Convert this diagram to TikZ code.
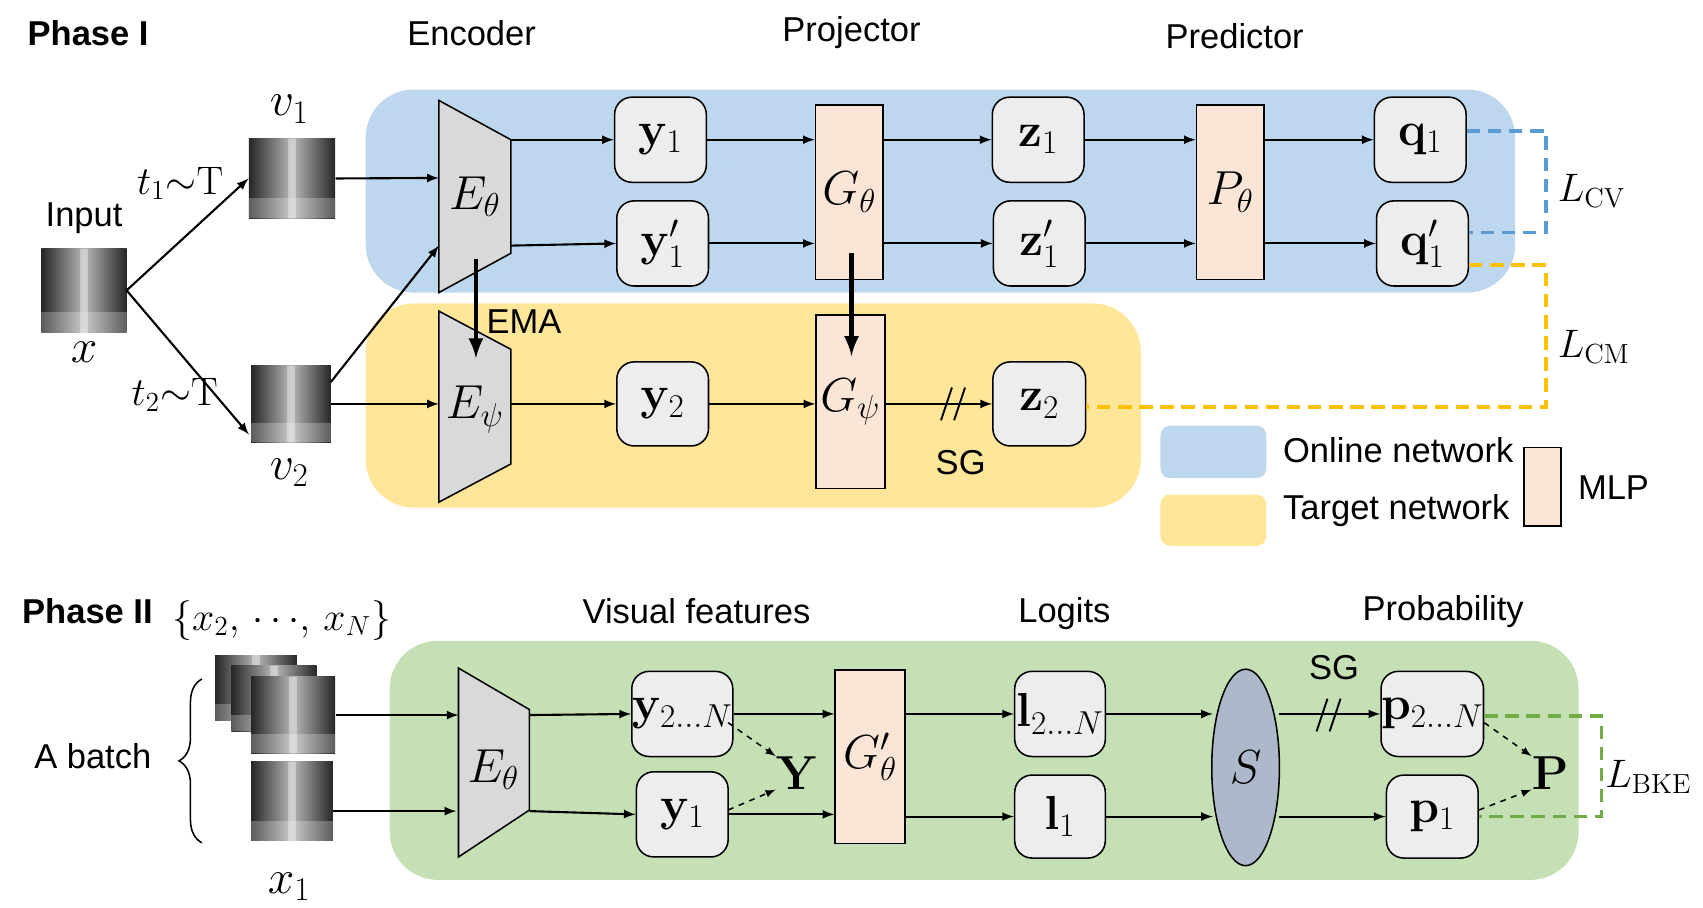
\documentclass[tikz,border=0pt]{standalone}
\usepackage[no-math]{fontspec}
\setmainfont{Liberation Sans}
\usetikzlibrary{decorations.pathreplacing,shapes.geometric}
\definecolor{onl}{HTML}{BDD7EE}
\definecolor{tgt}{HTML}{FFE699}
\definecolor{grn}{HTML}{C5E0B4}
\definecolor{mlp}{HTML}{FBE5D6}
\definecolor{boxg}{HTML}{EDEDED}
\definecolor{encg}{HTML}{D9D9D9}
\definecolor{sfill}{HTML}{ADB9CA}
\definecolor{dblue}{HTML}{5B9BD5}
\definecolor{dyel}{HTML}{FFC000}
\definecolor{dgrn}{HTML}{70AD47}
\begin{document}
\begin{tikzpicture}[x=0.02cm,y=-0.02cm,
  txt/.style={font=\fontsize{18}{21}\selectfont, inner sep=0pt},
  mth/.style={font=\fontsize{23}{27}\selectfont, inner sep=0pt},
  sml/.style={font=\fontsize{20}{24}\selectfont, inner sep=0pt},
  feat/.style={draw, rounded corners=9pt, fill=boxg, line width=0.8pt, inner sep=0pt, font=\fontsize{25}{29}\selectfont},
  mlpb/.style={draw, fill=mlp, line width=0.8pt, inner sep=0pt, font=\fontsize{23}{27}\selectfont},
  arr/.style={-latex, line width=1.1pt},
  darr/.style={-latex, dashed, line width=0.8pt},
  thick arr/.style={-latex, line width=2.5pt},
  enc/.style={draw, fill=encg, line width=0.8pt},
  loss/.style={dashed, dash pattern=on 7pt off 4pt, line width=2pt},
  bg/.style={rounded corners=25pt}
]
\useasboundingbox (0,0) rectangle (1560,831);
\newcommand\xray[5]{% name, x1,y1,x2,y2
  \shade[left color=black!85, right color=black!85, middle color=gray!55] (#2,#3) rectangle (#4,#5);
  \fill[white, opacity=0.35] ({(#2+#4)/2-4},#3) rectangle ({(#2+#4)/2+4},#5);
  \fill[white, opacity=0.25] (#2,{#5-0.25*(#5-#3)}) rectangle (#4,#5);
  \node[inner sep=0pt, minimum width={(#4-#2)*0.02cm}, minimum height={(#5-#3)*0.02cm}] (#1) at ({(#2+#4)/2},{(#3+#5)/2}) {};
}
% backgrounds
\fill[onl,bg] (335,82) rectangle (1388,268);
\fill[tgt,bg] (335,278) rectangle (1045,465);
\fill[grn,bg] (357,587) rectangle (1446,806);

% titles
\node[txt, font=\fontsize{18}{21}\selectfont\bfseries, anchor=west] (ph1) at (25,30) {Phase I};
\node[txt] (tenc) at (432,30) {Encoder};
\node[txt] (tproj) at (780,30) {Projector};
\node[txt] (tpred) at (1131,33) {Predictor};

% input
\node[txt] (tin) at (77,200) {Input};
\xray{inimg}{38}{228}{116}{305}
\node[mth] (tx) at (77,323) {$x$};
\xray{v1img}{228}{127}{307}{200}
\node[mth] (tv1) at (265,100) {$v_1$};
\xray{v2img}{230}{335}{303}{405}
\node[mth] (tv2) at (265,433) {$v_2$};
\node[sml] (tt1) at (165,168) {$t_1{\sim}\mathrm{T}$};
\node[sml] (tt2) at (160,362) {$t_2{\sim}\mathrm{T}$};
\coordinate (inR) at (116,266);
\draw[arr] (inR) -- (v1img.west);
\draw[arr] (inR) -- (228,398);

% encoders
\draw[enc] (402,92) -- (468,128) -- (468,232) -- (402,268) -- cycle;
\node[mth] (Eth) at (435,180) {$E_\theta$};
\draw[enc] (402,285) -- (468,320) -- (468,425) -- (402,460) -- cycle;
\node[mth] (Eps) at (435,375) {$E_\psi$};
\coordinate (eth1) at (402,163); \coordinate (eth2) at (402,225);
\coordinate (eps1) at (402,370);
\draw[arr] (v1img.east) -- (eth1);
\draw[arr] (v2img.east) -- (eps1);
\draw[arr] (303,350) -- (eth2);

% online row
\node[feat, minimum width=1.68cm, minimum height=1.56cm] (y1) at (605,128) {$\mathbf{y}_1$};
\node[feat, minimum width=1.68cm, minimum height=1.56cm] (y1p) at (607,223) {$\mathbf{y}_1'$};
\node[mlpb, minimum width=1.24cm, minimum height=3.2cm] (Gth) at (778,176) {$G_\theta$};
\node[feat, minimum width=1.68cm, minimum height=1.56cm] (z1) at (951,128) {$\mathbf{z}_1$};
\node[feat, minimum width=1.68cm, minimum height=1.56cm] (z1p) at (952,223) {$\mathbf{z}_1'$};
\node[mlpb, minimum width=1.24cm, minimum height=3.2cm] (Pth) at (1127,176) {$P_\theta$};
\node[feat, minimum width=1.68cm, minimum height=1.56cm] (q1) at (1301,128) {$\mathbf{q}_1$};
\node[feat, minimum width=1.68cm, minimum height=1.56cm] (q1p) at (1303,223) {$\mathbf{q}_1'$};
\draw[arr] (468,128) -- (y1.west);
\draw[arr] (468,225) -- (y1p.west);
\draw[arr] (y1.east) -- (Gth.west|-y1);
\draw[arr] (y1p.east) -- (Gth.west|-y1p);
\draw[arr] (Gth.east|-z1) -- (z1.west);
\draw[arr] (Gth.east|-z1p) -- (z1p.west);
\draw[arr] (z1.east) -- (Pth.west|-z1);
\draw[arr] (z1p.east) -- (Pth.west|-z1p);
\draw[arr] (Pth.east|-q1) -- (q1.west);
\draw[arr] (Pth.east|-q1p) -- (q1p.west);

% target row
\node[feat, minimum width=1.68cm, minimum height=1.54cm] (y2) at (607,370) {$\mathbf{y}_2$};
\node[mlpb, minimum width=1.26cm, minimum height=3.18cm] (Gps) at (779,368) {$G_\psi$};
\node[feat, minimum width=1.7cm, minimum height=1.54cm] (z2) at (952,370) {$\mathbf{z}_2$};
\draw[arr] (468,370) -- (y2.west);
\draw[arr] (y2.east) -- (Gps.west|-y2);
\draw[arr] (Gps.east|-z2) -- (z2.west);
\draw[line width=1pt] (862,385) -- (872,355) (874,385) -- (884,355);
\node[txt] (sg1) at (880,424) {SG};

% EMA arrows
\draw[thick arr] (436,237) -- (436,328);
\node[txt] (ema) at (480,295) {EMA};
\draw[thick arr] (780,232) -- (780,326);

% losses
\draw[dblue, loss] (q1.east|-0,120) -- (1416,120) -- (1416,213) -- (q1p.east|-0,213);
\node[sml, font=\fontsize{22}{26}\selectfont] (lcv) at (1458,175) {$L_{\mathrm{CV}}$};
\draw[dyel, loss] (q1p.east|-0,243) -- (1416,243) -- (1416,373) -- (z2.east|-0,373);
\node[sml, font=\fontsize{22}{26}\selectfont] (lcm) at (1460,318) {$L_{\mathrm{CM}}$};

% legend
\fill[onl, rounded corners=5pt] (1063,390) rectangle (1160,438);
\node[txt, anchor=west] (lon) at (1175,412) {Online network};
\fill[tgt, rounded corners=5pt] (1063,453) rectangle (1160,500);
\node[txt, anchor=west] (ltg) at (1175,468) {Target network};
\draw[fill=mlp, line width=0.8pt] (1396,410) rectangle (1430,482);
\node[txt] (lmlp) at (1478,447) {MLP};

% Phase II
\node[txt, font=\fontsize{18}{21}\selectfont\bfseries, anchor=west] (ph2) at (20,560) {Phase II};
\node[sml] (tset) at (258,568) {$\{x_2,\,\cdots\!,\,x_N\}$};
\node[txt] (tvf) at (638,560) {Visual features};
\node[txt] (tlog) at (975,562) {Logits};
\node[txt] (tprob) at (1322,560) {Probability};

\xray{b1}{197}{600}{272}{660}
\xray{b2}{212}{610}{290}{670}
\xray{b3}{230}{620}{307}{690}
\xray{x1img}{230}{698}{305}{770}
\node[mth] (tx1) at (265,812) {$x_1$};
\draw[decorate, decoration={brace, amplitude=12pt}, line width=0.8pt] (185,772) -- (185,622);
\node[txt] (tbatch) at (85,693) {A batch};

\draw[enc] (420,612) -- (485,650) -- (485,742) -- (420,785) -- cycle;
\node[mth] (E2) at (452,705) {$E_\theta$};
\draw[arr] (b3.east|-0,655) -- (420,655);
\draw[arr] (x1img.east|-0,743) -- (418,743);

\node[feat, minimum width=1.68cm, minimum height=1.56cm] (y2N) at (625,654) {$\mathbf{y}_{2\ldots N}$};
\node[feat, minimum width=1.68cm, minimum height=1.56cm] (y1b) at (625,746) {$\mathbf{y}_1$};
\draw[arr] (485,655) -- (y2N.west);
\draw[arr] (485,743) -- (y1b.west);
\node[mth, font=\fontsize{25}{29}\selectfont] (Y) at (730,708) {$\mathbf{Y}$};
\draw[darr] (667,662) -- (Y.north west);
\draw[darr] (667,742) -- (Y.south west);

\node[mlpb, minimum width=1.28cm, minimum height=3.18cm] (Gp) at (797,693) {$G_\theta'$};
\draw[arr] (y2N.east) -- (Gp.west|-y2N);
\draw[arr] (y1b.east) -- (Gp.west|-y1b);

\node[feat, minimum width=1.66cm, minimum height=1.56cm] (l2N) at (971,654) {$\mathbf{l}_{2\ldots N}$};
\node[feat, minimum width=1.66cm, minimum height=1.52cm] (l1) at (971,748) {$\mathbf{l}_1$};
\draw[arr] (Gp.east|-l2N) -- (l2N.west);
\draw[arr] (Gp.east|-l1) -- (l1.west);

\node[ellipse, draw, fill=sfill, line width=0.8pt, minimum width=1.24cm, minimum height=3.6cm, inner sep=0pt, font=\fontsize{23}{27}\selectfont] (S) at (1141,703) {$S$};
\draw[arr] (l2N.east) -- (1111,654);
\draw[arr] (l1.east) -- (1111,748);

\node[feat, minimum width=1.68cm, minimum height=1.56cm] (p2N) at (1312,654) {$\mathbf{p}_{2\ldots N}$};
\node[feat, minimum width=1.68cm, minimum height=1.52cm] (p1) at (1312,748) {$\mathbf{p}_1$};
\draw[arr] (1172,654) -- (p2N.west);
\draw[arr] (1172,748) -- (p1.west);
\draw[line width=1pt] (1206,670) -- (1216,640) (1218,670) -- (1228,640);
\node[txt] (sg2) at (1222,612) {SG};
\node[mth, font=\fontsize{25}{29}\selectfont] (P) at (1420,708) {$\mathbf{P}$};
\draw[darr] (p2N.east|-0,662) -- (P.north west);
\draw[darr] (p1.east|-0,742) -- (P.south west);
\draw[dgrn, loss] (p2N.east|-0,656) -- (1467,656) -- (1467,748) -- (p1.east|-0,748);
\node[sml] (lbke) at (1510,712) {$L_{\mathrm{BKE}}$};
\end{tikzpicture}
\end{document}
